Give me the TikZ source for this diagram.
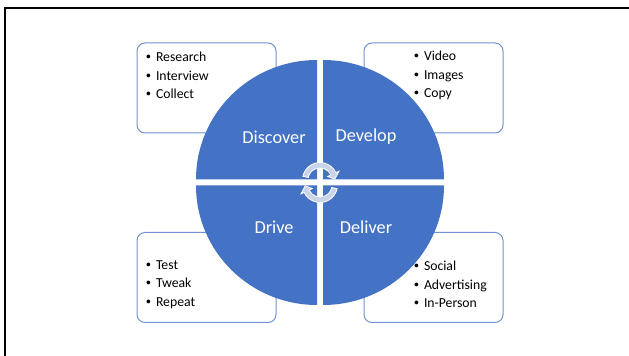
\documentclass[tikz,border=0pt]{standalone}
\usepackage{fontspec}
\setmainfont{Carlito}
\newfontfamily\bulletfont{Liberation Sans}

\definecolor{quadblue}{RGB}{68,114,196}
\definecolor{boxline}{RGB}{114,147,210}
\definecolor{cyclefill}{RGB}{201,211,234}
\newcommand{\itm}{\makebox[7.5pt][l]{{\bulletfont\textbullet}}}

\tikzset{every picture/.style={line width=0.75pt}}

\begin{document}
\begin{tikzpicture}[x=0.75pt,y=0.75pt,yscale=-1,xscale=1,
	listbox/.style={draw=boxline, fill=white, rounded corners=6pt, minimum width=104.25pt, minimum height=67.5pt, inner sep=0pt},
	quadrant/.style={fill=quadblue},
	quadlabel/.style={text=white, inner sep=0.75pt, font=\fontsize{13.7}{16}\selectfont},
	bulletlist/.style={anchor=west, align=left, inner sep=0pt, font=\fontsize{10.3}{13.9}\selectfont},
	cyclearrow/.style={fill=cyclefill, draw=white, line width=0.6pt}]
	\useasboundingbox (0,0) rectangle (629,356);
	
	%Frame
	\draw [line width=1.5pt] (5,356) -- (5,8) -- (629,8) ;
	
	%Shape: Rounded Rect 
	\node [listbox] (discbox) at (206.5,88) {};
	\node [listbox] (devbox) at (433.5,88) {};
	\node [listbox] (drivebox) at (206.5,277.5) {};
	\node [listbox] (delbox) at (433.5,277.5) {};
	
	%Shape: Quadrants 
	\fill [quadrant] (317,179.5) -- (196,179.5) arc [start angle=180, end angle=270, x radius=121, y radius=119.5] -- cycle ;
	\fill [quadrant] (323,179.5) -- (323,60) arc [start angle=270, end angle=360, x radius=121, y radius=119.5] -- cycle ;
	\fill [quadrant] (323,185.5) -- (444,185.5) arc [start angle=0, end angle=90, x radius=121, y radius=119.5] -- cycle ;
	\fill [quadrant] (317,185.5) -- (317,305) arc [start angle=90, end angle=180, x radius=121, y radius=119.5] -- cycle ;
	
	%Shape: Circular Arrows 
	\begin{scope}[shift={(320,180)}]
		\draw [cyclearrow] (192:17.5) arc [start angle=192, end angle=335, radius=17.5] -- (335:21) -- (357:14.75) -- (335:8.5) -- (335:12) arc [start angle=335, end angle=192, radius=12] -- cycle ;
	\end{scope}
	\begin{scope}[shift={(320,185)}]
		\draw [cyclearrow] (12:17.5) arc [start angle=12, end angle=155, radius=17.5] -- (155:21) -- (177:14.75) -- (155:8.5) -- (155:12) arc [start angle=155, end angle=12, radius=12] -- cycle ;
	\end{scope}
	
	% Text Node
	\node [quadlabel] (discover) at (274,137) {Discover};
	% Text Node
	\node [quadlabel] (develop) at (366,137) {Develop};
	% Text Node
	\node [quadlabel] (drive) at (274,227) {Drive};
	% Text Node
	\node [quadlabel] (deliver) at (366,227) {Deliver};
	
	% Text Node
	\node [bulletlist] (disclist) at (145.5,75.5) {\itm Research\\\itm Interview\\\itm Collect};
	% Text Node
	\node [bulletlist] (devlist) at (413.5,75.5) {\itm Video\\\itm Images\\\itm Copy};
	% Text Node
	\node [bulletlist] (drivelist) at (145.5,284.5) {\itm Test\\\itm Tweak\\\itm Repeat};
	% Text Node
	\node [bulletlist] (dellist) at (413.5,284.5) {\itm Social\\\itm Advertising\\\itm In-Person};
	
\end{tikzpicture}
\end{document}
